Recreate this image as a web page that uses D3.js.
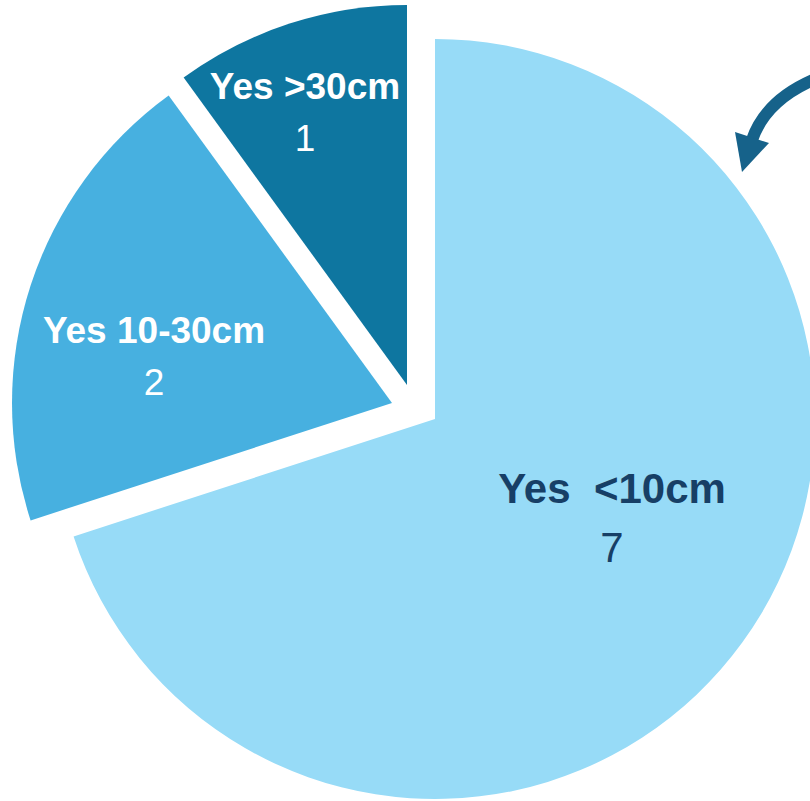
<!DOCTYPE html>
<html>
<head>
<meta charset="utf-8">
<script src="https://cdn.jsdelivr.net/npm/d3@7"></script>
<style>
  html, body { margin: 0; padding: 0; background: #ffffff; }
  svg { display: block; }
</style>
</head>
<body>
<svg id="chart" width="810" height="801"></svg>
<script>
// Slice data: answer categories and their counts
const categories = ["Yes  <10cm", "Yes 10-30cm", "Yes >30cm"];
const counts = [7, 2, 1];

// Presentation settings per slice (kept apart from the data)
const sliceColors = ["#97dbf7", "#47b0e0", "#0e76a0"];
const labelColors = ["#173f66", "#ffffff", "#ffffff"];
const titleSizes = [42, 37, 37];
const valueSizes = [42, 37, 37];
// explode offset of each slice from the pie centre
const explodeOffsets = [[0, 0], [-43, -16], [-28, -34]];
// label position (first baseline) relative to each slice's apex
const labelOffsets = [[177, 84], [-238, -60], [-102, -286]];

const width = 810, height = 801;
const cx = 435, cy = 419, radius = 380;

const svg = d3.select("#chart");

const pie = d3.pie().sort(null).value(d => d.value).startAngle(0).endAngle(2 * Math.PI);
const arc = d3.arc().innerRadius(0).outerRadius(radius);

const data = categories.map((c, i) => ({ name: c, value: counts[i], i }));
const arcs = pie(data);

const g = svg.append("g").attr("transform", `translate(${cx},${cy})`);

const slices = g.selectAll("g.slice")
  .data(arcs)
  .join("g")
  .attr("class", "slice")
  .attr("transform", d => `translate(${explodeOffsets[d.data.i][0]},${explodeOffsets[d.data.i][1]})`);

slices.append("path")
  .attr("d", arc)
  .attr("fill", d => sliceColors[d.data.i]);

const labels = slices.append("text")
  .attr("text-anchor", "middle")
  .attr("font-family", "'Liberation Sans', Arial, sans-serif")
  .attr("fill", d => labelColors[d.data.i])
  .attr("transform", d => `translate(${labelOffsets[d.data.i][0]},${labelOffsets[d.data.i][1]})`);

labels.append("tspan")
  .attr("x", 0)
  .attr("y", 0)
  .attr("font-weight", "bold")
  .attr("font-size", d => titleSizes[d.data.i])
  .attr("xml:space", "preserve")
  .style("white-space", "pre")
  .text(d => d.data.name);

labels.append("tspan")
  .attr("x", 0)
  .attr("dy", d => titleSizes[d.data.i] * 1.4)
  .attr("font-size", d => valueSizes[d.data.i])
  .text(d => d.data.value);

// Curved call-out arrow at the upper right
const arrowColor = "#16628a";
svg.append("path")
  .attr("d", "M818,78 Q766,99 752,140")
  .attr("fill", "none")
  .attr("stroke", arrowColor)
  .attr("stroke-width", 12);
svg.append("path")
  .attr("d", "M735,132 L769,143 L742,172 Z")
  .attr("fill", arrowColor);
</script>
</body>
</html>
